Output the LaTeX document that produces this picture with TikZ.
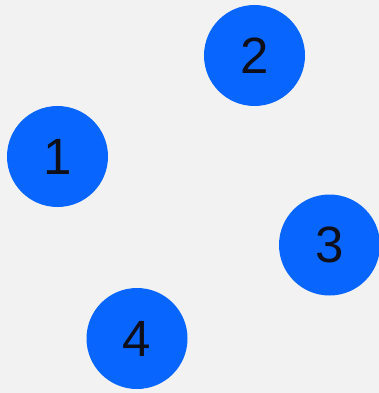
\documentclass[tikz,border=0pt]{standalone}
\usepackage{fontspec}
\setmainfont{Liberation Sans}
\definecolor{bg}{RGB}{242,242,242}
\definecolor{dotblue}{RGB}{8,102,255}
\definecolor{numtext}{RGB}{15,15,25}
\begin{document}
\begin{tikzpicture}[x=1pt,y=-1pt,
  dot/.style={circle,fill=dotblue,minimum size=101pt,inner sep=0pt,
    text=numtext,font=\fontsize{51}{51}\selectfont}]
\fill[bg] (0,0) rectangle (379,393);
\useasboundingbox (0,0) rectangle (379,393);
\node[dot] (n1) at (57.5,156.5) {1};
\node[dot] (n2) at (254.5,55.5) {2};
\node[dot] (n3) at (329.5,245) {3};
\node[dot] (n4) at (137,338.5) {4};
\end{tikzpicture}
\end{document}
